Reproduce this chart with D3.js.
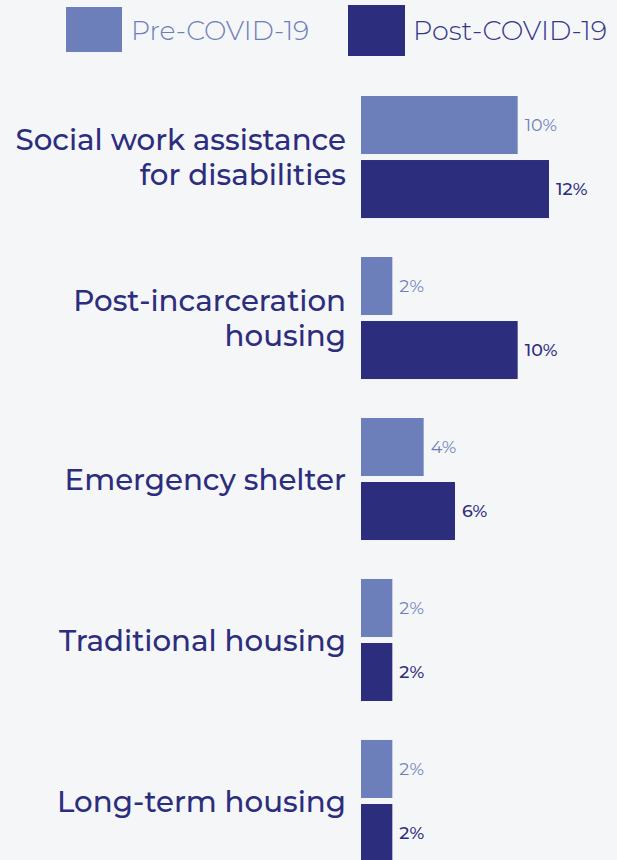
<!DOCTYPE html>
<html>
<head>
<meta charset="utf-8">
<script src="https://cdn.jsdelivr.net/npm/d3@7"></script>
<style>
  html, body { margin: 0; padding: 0; background: #f5f6f8; }
  svg { display: block; }
</style>
</head>
<body>
<svg id="chart" width="617" height="860"></svg>
<script>
const categories = [
  ["Social work assistance", "for disabilities"],
  ["Post-incarceration", "housing"],
  ["Emergency shelter"],
  ["Traditional housing"],
  ["Long-term housing"]
];
const seriesNames = ["Pre-COVID-19", "Post-COVID-19"];
const preCovid = [10, 2, 4, 2, 2];
const postCovid = [12, 10, 6, 2, 2];
const seriesColors = ["#6d7fba", "#2d2d7e"];

const svg = d3.select("#chart");
const font = "Montserrat, 'Noto Sans', sans-serif";

const catKeys = categories.map(c => c.join(" "));
const values = [preCovid, postCovid];

const y0 = d3.scaleBand().domain(catKeys).range([96, 862]).paddingInner(0.242).paddingOuter(0);
const y1 = d3.scaleBand().domain(seriesNames).range([0, y0.bandwidth()]).paddingInner(0.094);
const x = d3.scaleLinear().domain([0, 12]).range([361, 549]);

const groups = svg.selectAll("g.group").data(catKeys).join("g")
  .attr("class", "group")
  .attr("transform", d => `translate(0,${y0(d)})`);

seriesNames.forEach((s, si) => {
  groups.append("rect")
    .attr("x", x(0))
    .attr("y", y1(s))
    .attr("width", (d, i) => x(values[si][i]) - x(0))
    .attr("height", y1.bandwidth())
    .attr("fill", seriesColors[si]);
  groups.append("text")
    .attr("x", (d, i) => x(values[si][i]) + 7)
    .attr("y", y1(s) + y1.bandwidth() / 2)
    .attr("dy", "0.35em")
    .attr("fill", seriesColors[si])
    .attr("font-family", font)
    .attr("font-size", 17.5)
    .attr("font-weight", si === 0 ? 400 : 500)
    .text((d, i) => values[si][i] + "%");
});

// Category labels, right-aligned against the bars
groups.each(function(d, i) {
  const lines = categories[i];
  const lh = 35;
  const mid = y0.bandwidth() / 2;
  const t = d3.select(this).append("text")
    .attr("text-anchor", "end")
    .attr("fill", "#2d2d7e")
    .attr("font-family", font)
    .attr("font-size", 29.3)
    .attr("font-weight", 500);
  lines.forEach((line, li) => {
    t.append("tspan")
      .attr("x", 346)
      .attr("y", mid + (li - (lines.length - 1) / 2) * lh)
      .attr("dy", "0.36em")
      .text(line);
  });
});

// Legend
const legend = [
  { x: 66, y: 7, w: 56, h: 45, tx: 131, fs: 26.7, color: "#6d7fba" },
  { x: 348, y: 5, w: 57, h: 51, tx: 413, fs: 27, color: "#35368a" }
];
legend.forEach((l, i) => {
  svg.append("rect").attr("x", l.x).attr("y", l.y).attr("width", l.w).attr("height", l.h)
    .attr("fill", seriesColors[i]);
  svg.append("text").attr("x", l.tx).attr("y", 30).attr("dy", "0.36em")
    .attr("fill", l.color)
    .attr("font-family", font)
    .attr("font-size", l.fs)
    .attr("font-weight", 300)
    .text(seriesNames[i]);
});
</script>
</body>
</html>
